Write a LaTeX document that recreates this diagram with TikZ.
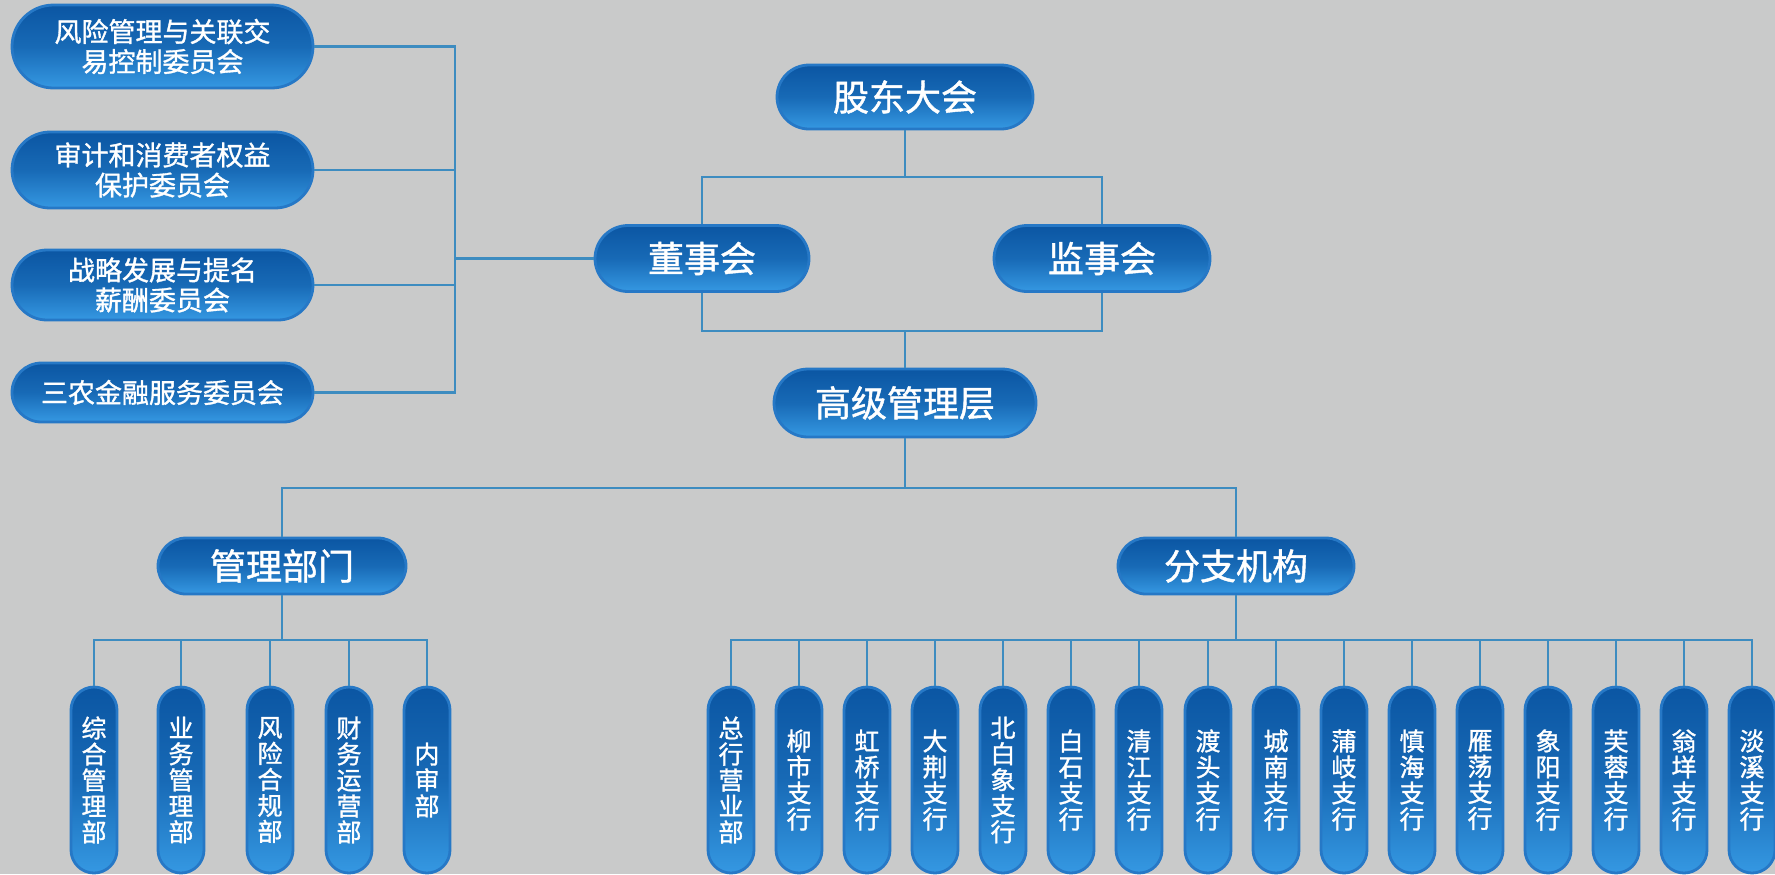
\documentclass[tikz,border=0pt]{standalone}
\usepackage{fontspec}
\setmainfont{Noto Sans CJK SC}[FakeBold=1.2]
\definecolor{bgc}{HTML}{C9CACA}
\definecolor{linec}{HTML}{3D8CC0}
\definecolor{pilltop}{HTML}{0B56A3}
\definecolor{pillbot}{HTML}{3598E2}
\definecolor{pilledge}{HTML}{2678C6}
\tikzset{
  pill/.style={draw=pilledge, line width=1.4pt, top color=pilltop, bottom color=pillbot,
    middle color=pilltop!70!pillbot, text=white, inner sep=0pt, align=center},
  bigpill/.style={pill, rounded corners=16pt, minimum height=32pt, font=\fontsize{18}{20}\selectfont},
  compill/.style={pill, minimum width=150.5pt, font=\fontsize{13.5}{15}\selectfont},
  vpill/.style={pill, rounded corners=11.5pt, minimum width=23pt, minimum height=93pt,
    font=\fontsize{12.5}{13}\selectfont},
  conn/.style={draw=linec, line width=1.3pt}
}
\begin{document}
\begin{tikzpicture}[x=0.5pt,y=-0.5pt]
\fill[bgc] (0,0) rectangle (1775,874);
\useasboundingbox (0,0) rectangle (1775,874);
% bus coordinates
\coordinate (yA) at (0,177);
\coordinate (yB) at (0,331);
\coordinate (yC) at (0,488);
\coordinate (yD) at (0,640);
\coordinate (xC) at (455,0);
% top nodes
\node[bigpill, minimum width=128pt] (gd) at (905,97) {股东大会};
\node[bigpill, minimum width=107pt, minimum height=33pt, rounded corners=16.5pt] (dsh) at (702,258.5) {董事会};
\node[bigpill, minimum width=108pt, minimum height=33pt, rounded corners=16.5pt] (jsh) at (1102,258.5) {监事会};
\node[bigpill, minimum width=131pt, minimum height=34pt, rounded corners=17pt] (gj) at (905,403) {高级管理层};
\node[bigpill, minimum width=124pt, minimum height=28pt, rounded corners=14pt] (gl) at (282,566) {管理部门};
\node[bigpill, minimum width=118pt, minimum height=28pt, rounded corners=14pt] (fz) at (1236,566) {分支机构};
% committees
\node[compill, minimum height=41.5pt, rounded corners=20.75pt] (c1) at (162.5,46.5) {风险管理与关联交\\易控制委员会};
\node[compill, minimum height=38pt, rounded corners=19pt] (c2) at (162.5,170) {审计和消费者权益\\保护委员会};
\node[compill, minimum height=35pt, rounded corners=17.5pt] (c3) at (162.5,285) {战略发展与提名\\薪酬委员会};
\node[compill, minimum height=29.5pt, rounded corners=14.75pt] (c4) at (162.5,392.5) {三农金融服务委员会};
% departments
\node[vpill] (d1) at (94,780) {综\\合\\管\\理\\部};
\node[vpill] (d2) at (181,780) {业\\务\\管\\理\\部};
\node[vpill] (d3) at (270,780) {风\\险\\合\\规\\部};
\node[vpill] (d4) at (349,780) {财\\务\\运\\营\\部};
\node[vpill] (d5) at (427,780) {内\\审\\部};
% branches
\node[vpill] (b1) at (731,780) {总\\行\\营\\业\\部};
\node[vpill] (b2) at (799,780) {柳\\市\\支\\行};
\node[vpill] (b3) at (867,780) {虹\\桥\\支\\行};
\node[vpill] (b4) at (935,780) {大\\荆\\支\\行};
\node[vpill] (b5) at (1003,780) {北\\白\\象\\支\\行};
\node[vpill] (b6) at (1071,780) {白\\石\\支\\行};
\node[vpill] (b7) at (1139,780) {清\\江\\支\\行};
\node[vpill] (b8) at (1208,780) {渡\\头\\支\\行};
\node[vpill] (b9) at (1276,780) {城\\南\\支\\行};
\node[vpill] (b10) at (1344,780) {蒲\\岐\\支\\行};
\node[vpill] (b11) at (1412,780) {慎\\海\\支\\行};
\node[vpill] (b12) at (1480,780) {雁\\荡\\支\\行};
\node[vpill] (b13) at (1548,780) {象\\阳\\支\\行};
\node[vpill] (b14) at (1616,780) {芙\\蓉\\支\\行};
\node[vpill] (b15) at (1684,780) {翁\\垟\\支\\行};
\node[vpill] (b16) at (1752,780) {淡\\溪\\支\\行};
% connectors
\draw[conn] (gd.south) -- (gd.south |- yA);
\draw[conn] (dsh.north) -- (dsh.north |- yA) -- (jsh.north |- yA) -- (jsh.north);
\draw[conn] (dsh.south) -- (dsh.south |- yB) -- (jsh.south |- yB) -- (jsh.south);
\draw[conn] (gj.north |- yB) -- (gj.north);
\draw[conn] (c1.east) -- (c1.east -| xC) -- (c4.east -| xC) -- (c4.east);
\draw[conn] (c2.east) -- (c2.east -| xC);
\draw[conn] (c3.east) -- (c3.east -| xC);
\draw[conn] (dsh.west) -- (dsh.west -| xC);
\draw[conn] (gj.south) -- (gj.south |- yC);
\draw[conn] (gl.north) -- (gl.north |- yC) -- (fz.north |- yC) -- (fz.north);
\draw[conn] (gl.south) -- (gl.south |- yD);
\draw[conn] (d1.north) -- (d1.north |- yD) -- (d5.north |- yD) -- (d5.north);
\foreach \n in {d2,d3,d4} \draw[conn] (\n.north) -- (\n.north |- yD);
\draw[conn] (fz.south) -- (fz.south |- yD);
\draw[conn] (b1.north) -- (b1.north |- yD) -- (b16.north |- yD) -- (b16.north);
\foreach \n in {b2,b3,b4,b5,b6,b7,b8,b9,b10,b11,b12,b13,b14,b15} \draw[conn] (\n.north) -- (\n.north |- yD);
\end{tikzpicture}
\end{document}
